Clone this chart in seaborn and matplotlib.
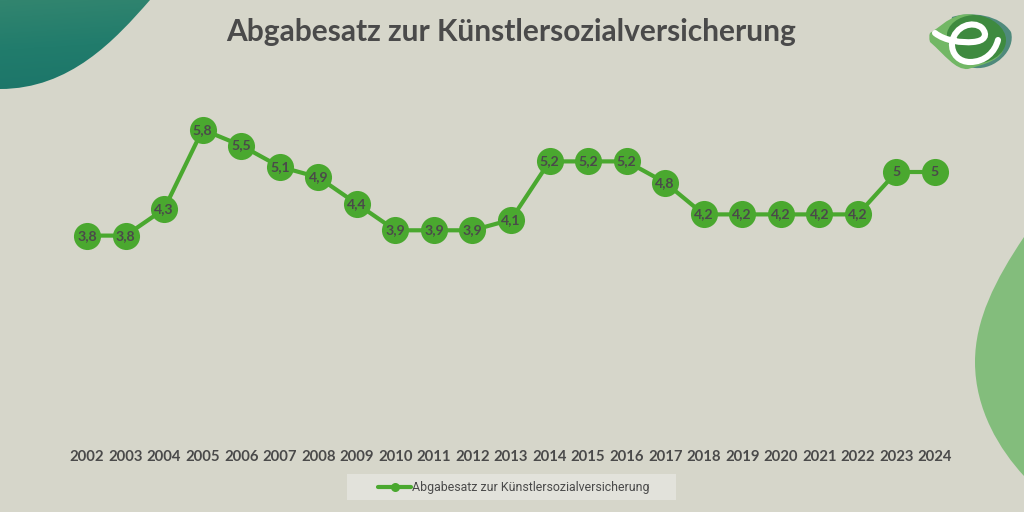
import numpy as np
import pandas as pd
import seaborn as sns
import matplotlib
matplotlib.use("Agg")
import matplotlib.pyplot as plt
from matplotlib.patches import PathPatch, Rectangle
from matplotlib.path import Path
from matplotlib.colors import LinearSegmentedColormap

years = [str(y) for y in range(2002, 2025)]
rates = [3.8, 3.8, 4.3, 5.8, 5.5, 5.1, 4.9, 4.4, 3.9, 3.9, 3.9, 4.1, 5.2, 5.2, 5.2, 4.8, 4.2, 4.2, 4.2, 4.2, 4.2, 5.0, 5.0]
labels = ["3,8", "3,8", "4,3", "5,8", "5,5", "5,1", "4,9", "4,4", "3,9", "3,9", "3,9", "4,1", "5,2", "5,2", "5,2", "4,8", "4,2", "4,2", "4,2", "4,2", "4,2", "5", "5"]
series_name = "Abgabesatz zur Künstlersozialversicherung"
title = "Abgabesatz zur Künstlersozialversicherung"

BG = "#d6d6ca"
GREEN = "#4aa82f"
TEXT = "#4a4a4a"
BOLD_FONT = ["Lato", "DejaVu Sans"]

sns.set_theme(style="white")
plt.rcParams['font.family'] = ['Noto Sans', 'DejaVu Sans']

W, H = 1024, 512
fig = plt.figure(figsize=(W / 100, H / 100), dpi=100, facecolor=BG)

deco = fig.add_axes([0, 0, 1, 1], zorder=0)
deco.set_xlim(0, W); deco.set_ylim(H, 0); deco.axis("off")

def blob(verts, **kw):
    codes = [Path.MOVETO] + [Path.CURVE4] * (len(verts) - 1)
    p = PathPatch(Path(verts, codes), lw=0, **kw)
    deco.add_patch(p)
    return p

tl = blob([(0, 0), (50, 0), (100, 0), (150, 0), (115, 40), (70, 89), (0, 89), (0, 60), (0, 30), (0, 0)], fc="none")
gx, gy = np.meshgrid(np.linspace(0, 1, 80), np.linspace(0, 1, 50))
grad = gy * 0.9 + gx * 0.1
cm = LinearSegmentedColormap.from_list("g", ["#32856f", "#217c6c", "#1c7569"])
im = deco.imshow(grad, extent=(0, 150, 90, 0), cmap=cm, aspect="auto", zorder=1)
im.set_clip_path(tl)
deco.set_xlim(0, W); deco.set_ylim(H, 0)

blob([(1024, 237), (995, 280), (975, 320), (975, 362), (975, 410), (1000, 450), (1024, 476), (1024, 400), (1024, 300), (1024, 237)], fc="#83bd7c")

# logo
blob([(952, 17), (972, 11), (1000, 15), (1011, 32), (1016, 50), (995, 70), (975, 68), (965, 67), (960, 66), (955, 62), (952, 40), (950, 28), (952, 17)], fc="#4f8a7c", zorder=2)
blob([(930, 33), (940, 27), (945, 20), (960, 15), (985, 10), (1005, 30), (1004, 46), (1003, 60), (985, 64), (968, 69), (955, 70), (945, 55), (930, 42), (929, 38), (929, 36), (930, 33)], fc="#72b765", zorder=3)
blob([(947, 33), (950, 20), (965, 15), (975, 15), (992, 16), (1006, 28), (1006, 40), (1006, 56), (988, 64), (972, 64), (958, 64), (947, 50), (947, 33)], fc="#3e8a3f", zorder=4)
e_path = Path([(935, 33), (945, 41), (962, 43), (973, 42),
               (985, 41), (988, 35), (982, 28),
               (973, 20), (955, 26), (952, 42),
               (951, 55), (960, 62), (970, 62),
               (985, 62), (995, 52), (998, 40)],
              [Path.MOVETO] + [Path.CURVE4] * 15)
deco.add_patch(PathPatch(e_path, fc="none", ec="white", lw=4.4, capstyle="round", zorder=5))

left, right = 67.75, 954.25
y0_px, top_px = 437.0, 92.5
ax = fig.add_axes([left / W, 1 - y0_px / H, (right - left) / W, (y0_px - top_px) / H], zorder=2)
ax.patch.set_alpha(0)
df = pd.DataFrame({"Jahr": years, series_name: rates})
sns.lineplot(data=df, x="Jahr", y=series_name, ax=ax, color=GREEN, lw=3, marker="o", markersize=19.5,
             markeredgewidth=0, label=series_name, sort=False, clip_on=False)
ax.set_xlim(-0.5, 22.5)
ax.set_ylim(0, 6.5)
ax.set_xlabel(""); ax.set_ylabel("")
ax.set_yticks([])
ax.tick_params(axis="x", length=0, pad=9.5, labelsize=10.7, labelcolor=TEXT)
for t in ax.get_xticklabels():
    t.set_fontweight("bold")
    t.set_family(BOLD_FONT)
for s in ax.spines.values():
    s.set_visible(False)
for i, (v, l) in enumerate(zip(rates, labels)):
    ax.text(i, v, l, ha="center", va="center", fontsize=10.2, color=TEXT, fontweight="bold", family=BOLD_FONT, zorder=5)

ax.get_legend().remove()
deco.add_patch(Rectangle((347, 474), 329, 26, fc="#e2e2db", lw=0, zorder=2))
deco.plot([378, 411], [487, 487], color=GREEN, lw=3, zorder=3)
deco.plot([394.5], [487], "o", color=GREEN, ms=6.5, mew=0, zorder=3)
deco.text(412, 487, series_name, fontsize=8.9, color=TEXT, va="center", ha="left", zorder=3, family=["Roboto", "DejaVu Sans"])

fig.text(511.5 / W, 1 - 32 / H, title, ha="center", va="center", fontsize=21.5, fontweight="bold", color=TEXT, family=BOLD_FONT, zorder=5)

fig.savefig("out.png", dpi=100, facecolor=BG)
